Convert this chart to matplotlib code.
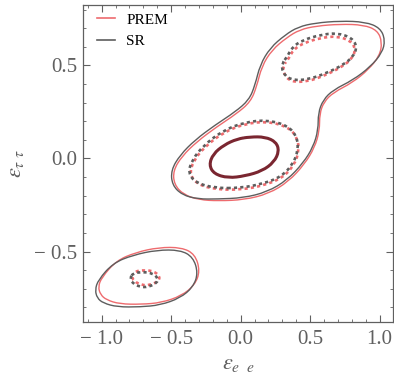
import numpy as np
import matplotlib
matplotlib.use("Agg")
import matplotlib.pyplot as plt
from matplotlib.path import Path
from matplotlib.patches import PathPatch
from matplotlib.lines import Line2D
from matplotlib.ticker import MultipleLocator

plt.rcParams['font.family'] = ['Liberation Serif', 'DejaVu Serif']
plt.rcParams['mathtext.fontset'] = 'stix'

# contour outlines (data units)
# outer (3 sigma) contour, main region
sr_outer_x = [-0.169, 0.018, 0.191, 0.335, 0.450, 0.522, 0.558, 0.558, 0.594, 0.665, 0.809, 0.932,
              1.018, 1.040, 1.004, 0.896, 0.716, 0.536, 0.414, 0.320, 0.212, 0.140, 0.104, 0.061,
              -0.040, -0.183, -0.327, -0.435, -0.500, -0.493, -0.421, -0.306]
sr_outer_y = [-0.218, -0.212, -0.180, -0.116, -0.024, 0.062, 0.153, 0.245, 0.315, 0.368, 0.422, 0.492,
              0.567, 0.637, 0.702, 0.734, 0.739, 0.728, 0.707, 0.664, 0.594, 0.503, 0.395, 0.315,
              0.250, 0.180, 0.100, 0.019, -0.062, -0.142, -0.196, -0.218]
prem_outer_x = [-0.160, 0.025, 0.200, 0.345, 0.460, 0.532, 0.568, 0.568, 0.600, 0.668, 0.805, 0.920,
                1.000, 1.018, 0.985, 0.885, 0.716, 0.545, 0.425, 0.332, 0.225, 0.152, 0.116, 0.072,
                -0.030, -0.172, -0.315, -0.422, -0.485, -0.478, -0.410, -0.298]
prem_outer_y = [-0.228, -0.222, -0.190, -0.124, -0.030, 0.058, 0.150, 0.240, 0.305, 0.355, 0.408, 0.478,
                0.552, 0.625, 0.688, 0.718, 0.722, 0.712, 0.692, 0.650, 0.583, 0.495, 0.388, 0.305,
                0.240, 0.170, 0.090, 0.012, -0.065, -0.140, -0.195, -0.222]

# outer contour, lower-left island
sr_island_x = [-1.047, -1.025, -0.917, -0.773, -0.601, -0.435, -0.342, -0.306, -0.342, -0.435,
               -0.579, -0.723, -0.888, -0.989, -1.032]
sr_island_y = [-0.707, -0.653, -0.562, -0.519, -0.492, -0.492, -0.530, -0.616, -0.691, -0.750,
               -0.788, -0.798, -0.798, -0.777, -0.750]
prem_island_x = [-1.025, -1.000, -0.895, -0.755, -0.590, -0.425, -0.328, -0.292, -0.330, -0.425,
                 -0.570, -0.715, -0.870, -0.965, -1.008]
prem_island_y = [-0.690, -0.640, -0.550, -0.505, -0.478, -0.478, -0.515, -0.605, -0.680, -0.738,
                 -0.775, -0.784, -0.782, -0.760, -0.732]

# dashed (2 sigma) contours
sr_mid_x = [-0.004, 0.155, 0.291, 0.378, 0.414, 0.406, 0.342, 0.198, 0.032, -0.133, -0.270, -0.349,
            -0.378, -0.320, -0.183]
sr_mid_y = [-0.159, -0.137, -0.099, -0.030, 0.046, 0.116, 0.175, 0.207, 0.196, 0.148, 0.067, -0.008,
            -0.078, -0.132, -0.159]
prem_mid_x = [0.004, 0.162, 0.298, 0.386, 0.420, 0.410, 0.345, 0.200, 0.036, -0.126, -0.262, -0.340,
              -0.368, -0.310, -0.175]
prem_mid_y = [-0.168, -0.146, -0.106, -0.036, 0.040, 0.110, 0.168, 0.199, 0.188, 0.140, 0.060, -0.014,
              -0.084, -0.140, -0.167]

sr_upper_x = [0.335, 0.371, 0.450, 0.572, 0.694, 0.802, 0.838, 0.809, 0.737, 0.622, 0.478, 0.356,
              0.299, 0.299]
sr_upper_y = [0.546, 0.599, 0.637, 0.664, 0.675, 0.648, 0.599, 0.546, 0.503, 0.460, 0.422, 0.422,
              0.465, 0.513]
prem_upper_x = [0.345, 0.380, 0.458, 0.576, 0.692, 0.795, 0.828, 0.800, 0.730, 0.618, 0.480, 0.362,
                0.308, 0.307]
prem_upper_y = [0.535, 0.586, 0.622, 0.648, 0.658, 0.632, 0.585, 0.535, 0.493, 0.450, 0.412, 0.412,
                0.454, 0.501]

sr_small_x = [-0.773, -0.701, -0.637, -0.594, -0.601, -0.665, -0.723, -0.781, -0.795]
sr_small_y = [-0.616, -0.610, -0.616, -0.642, -0.669, -0.691, -0.691, -0.669, -0.642]
prem_small_x = [-0.761, -0.689, -0.625, -0.582, -0.589, -0.653, -0.711, -0.769, -0.783]
prem_small_y = [-0.606, -0.600, -0.606, -0.632, -0.659, -0.681, -0.681, -0.659, -0.632]

# thick (1 sigma) contour, PREM and SR on top of each other
inner_x = [0.068, 0.176, 0.255, 0.277, 0.241, 0.155, 0.032, -0.090, -0.191, -0.227, -0.198, -0.119, -0.025]
inner_y = [0.116, 0.116, 0.089, 0.040, -0.019, -0.067, -0.094, -0.105, -0.083, -0.035, 0.024, 0.073, 0.105]

PREM_COLOR = '#ee6b6e'
SR_COLOR = '#5d5d5d'
INNER_COLOR = '#7a2630'
AXIS_COLOR = '#606060'


def closed_path(xs, ys):
    # smooth closed curve: points used as quadratic spline control points
    pts = np.column_stack([xs, ys])
    mids = (pts + np.roll(pts, -1, axis=0)) / 2
    verts = [mids[-1]]
    codes = [Path.MOVETO]
    for p, m in zip(pts, mids):
        verts += [p, m]
        codes += [Path.CURVE3, Path.CURVE3]
    return Path(verts, codes)


def add_curve(ax, xs, ys, **kw):
    ax.add_patch(PathPatch(closed_path(xs, ys), fill=False, **kw))


def tick_fmt(v, pos):
    s = f'{v:.1f}'
    return s.replace('-', '\u2212 ')


fig = plt.figure(figsize=(3.94, 3.82), dpi=100)
ax = fig.add_axes([0.211, 0.157, 0.786, 0.830])

dash = (1.2, 1.2)
# outer
add_curve(ax, prem_outer_x, prem_outer_y, ec=PREM_COLOR, lw=1.0)
add_curve(ax, sr_outer_x, sr_outer_y, ec=SR_COLOR, lw=1.0)
add_curve(ax, prem_island_x, prem_island_y, ec=PREM_COLOR, lw=1.0)
add_curve(ax, sr_island_x, sr_island_y, ec=SR_COLOR, lw=1.0)
# dashed
for xs, ys, c, off in [(prem_mid_x, prem_mid_y, PREM_COLOR, 1.2), (sr_mid_x, sr_mid_y, SR_COLOR, 0),
                       (prem_upper_x, prem_upper_y, PREM_COLOR, 1.2), (sr_upper_x, sr_upper_y, SR_COLOR, 0),
                       (prem_small_x, prem_small_y, PREM_COLOR, 1.2), (sr_small_x, sr_small_y, SR_COLOR, 0)]:
    add_curve(ax, xs, ys, ec=c, lw=1.9, ls=(off, dash), capstyle='butt')
# inner
add_curve(ax, inner_x, inner_y, ec=INNER_COLOR, lw=2.2)

ax.set_xlim(-1.133, 1.095)
ax.set_ylim(-0.879, 0.825)

ax.xaxis.set_major_locator(MultipleLocator(0.5))
ax.yaxis.set_major_locator(MultipleLocator(0.5))
ax.xaxis.set_minor_locator(MultipleLocator(0.1))
ax.yaxis.set_minor_locator(MultipleLocator(0.1))
ax.xaxis.set_major_formatter(plt.FuncFormatter(tick_fmt))
ax.yaxis.set_major_formatter(plt.FuncFormatter(tick_fmt))

ax.tick_params(which='both', direction='in', top=True, right=True, colors=AXIS_COLOR)
ax.tick_params(which='major', length=5, width=0.8, labelsize=15, labelcolor=AXIS_COLOR)
ax.tick_params(which='minor', length=2.5, width=0.6)
ax.tick_params(axis='x', which='major', pad=6)
ax.tick_params(axis='y', which='major', pad=4)
for s in ax.spines.values():
    s.set_color(AXIS_COLOR)
    s.set_linewidth(0.9)

ax.set_xlabel(r'$\varepsilon_{e\ \ e}$', fontsize=16, color=AXIS_COLOR, labelpad=4)
ax.set_ylabel(r'$\varepsilon_{\tau\ \tau}$', fontsize=16, color=AXIS_COLOR, labelpad=6)

handles = [Line2D([], [], color=PREM_COLOR, lw=1.2), Line2D([], [], color=SR_COLOR, lw=1.2)]
ax.legend(handles, ['PREM', 'SR'], loc='upper left', bbox_to_anchor=(0.045, 0.975), frameon=False,
          fontsize=11, handlelength=1.2, handletextpad=0.7, labelspacing=0.5, borderpad=0,
          borderaxespad=0)

fig.savefig('out.png', dpi=100)
